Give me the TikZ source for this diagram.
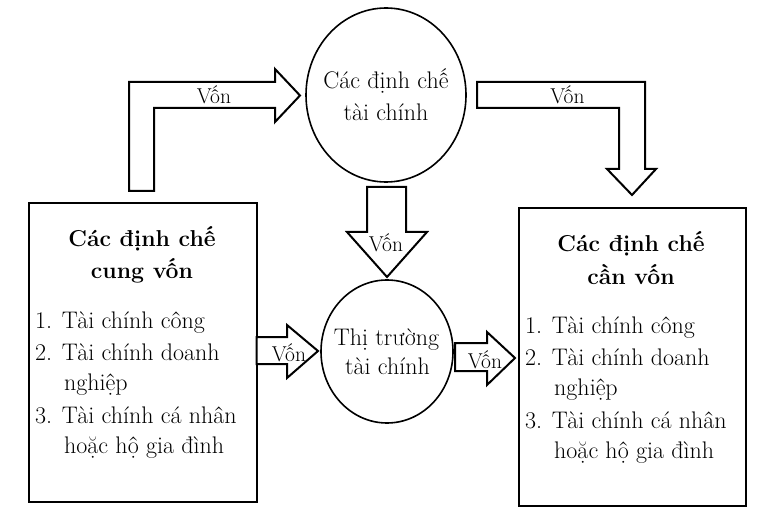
\documentclass[tikz,border=0pt]{standalone}
\usepackage{fontspec}
\usetikzlibrary{shapes.geometric}
\begin{document}
\begin{tikzpicture}[x=1pt,y=-1pt,line join=miter]
\useasboundingbox (0,0) rectangle (759,526);
\tikzset{
  boxst/.style={draw, line width=2pt, inner sep=0pt, anchor=north west},
  circst/.style={draw, ellipse, line width=1.6pt, inner sep=0pt},
  txt/.style={font=\fontsize{24}{31}\selectfont, inner sep=0pt},
  ttl/.style={font=\fontsize{23}{31}\selectfont\bfseries, inner sep=0pt, anchor=base},
  lst/.style={txt, anchor=base west},
  ctx/.style={txt, anchor=base},
  blk/.style={draw, line width=2pt, fill=white},
  lbl/.style={font=\fontsize{21.5}{22}\selectfont, inner sep=0pt, anchor=base}
}
% boxes
\node[boxst, minimum width=228pt, minimum height=299pt] (lbox) at (28,202) {};
\node[boxst, minimum width=227pt, minimum height=298pt] (rbox) at (518,207) {};
% circles
\node[circst, minimum width=160pt, minimum height=174pt] (tcirc) at (386,95) {};
\node[circst, minimum width=132pt, minimum height=143pt] (mcirc) at (387,351.5) {};

% circle texts
\node[ctx] (t1) at (386,89) {Các định chế};
\node[ctx] (t2) at (386,120.7) {tài chính};
\node[ctx] (m1) at (386.5,345.3) {Thị trường};
\node[ctx] (m2) at (387.5,374) {tài chính};

% left box text
\node[ttl] (lt1) at (142,246.7) {Các định chế};
\node[ttl] (lt2) at (142,279) {cung vốn};
\node[lst] (l1) at (35,328) {1. Tài chính công};
\node[lst] (l2) at (35,360) {2. Tài chính doanh};
\node[lst] (l2b) at (64,390) {nghiệp};
\node[lst] (l3) at (35,423) {3. Tài chính cá nhân};
\node[lst] (l3b) at (64,453) {hoặc hộ gia đình};

% right box text
\node[ttl] (rt1) at (631,252) {Các định chế};
\node[ttl] (rt2) at (631,284) {cần vốn};
\node[lst] (r1) at (525,333) {1. Tài chính công};
\node[lst] (r2) at (525,365) {2. Tài chính doanh};
\node[lst] (r2b) at (554,395) {nghiệp};
\node[lst] (r3) at (525,428) {3. Tài chính cá nhân};
\node[lst] (r3b) at (554,458) {hoặc hộ gia đình};

% block arrows
\draw[blk] (129,191) -- (129,82) -- (275,82) -- (275,69) -- (300,95.5) -- (275,122) -- (275,108) -- (154,108) -- (154,191) -- cycle;
\draw[blk] (477,82) -- (645,82) -- (645,169) -- (656,169) -- (632,195) -- (607,169) -- (619,169) -- (619,108) -- (477,108) -- cycle;
\draw[blk] (367,187) -- (406,187) -- (406,232) -- (427,232) -- (387,277) -- (347,232) -- (367,232) -- cycle;
\draw[blk] (256.5,337) -- (287,337) -- (287,325) -- (318,351) -- (287,378) -- (287,364) -- (256.5,364) -- cycle;
\draw[blk] (455,343) -- (487,343) -- (487,332) -- (515,358) -- (487,385) -- (487,371) -- (455,371) -- cycle;

% labels
\node[lbl] (va) at (214,104) {Vốn};
\node[lbl] (vb) at (567.5,104) {Vốn};
\node[lbl] (vc) at (386,251.7) {Vốn};
\node[lbl] (vd) at (289,361.7) {Vốn};
\node[lbl] (ve) at (485,368) {Vốn};
\end{tikzpicture}
\end{document}
